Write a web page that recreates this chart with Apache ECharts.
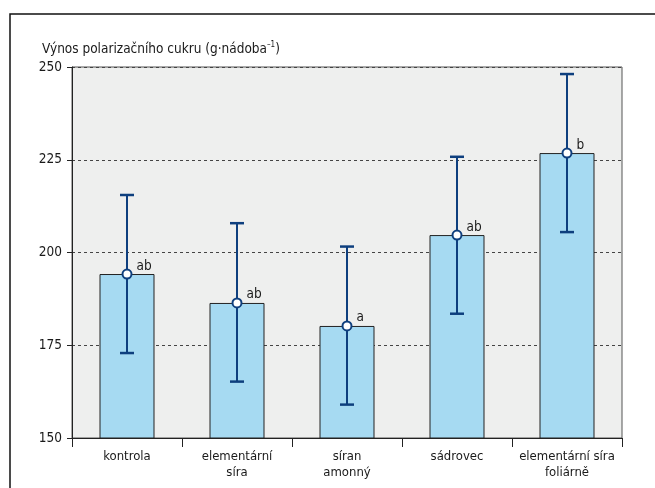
<!DOCTYPE html>
<html>
<head>
<meta charset="utf-8">
<script src="https://cdn.jsdelivr.net/npm/echarts@6/dist/echarts.min.js"></script>
<style>
  html, body { margin: 0; padding: 0; background: #fff; }
  #chart { width: 655px; height: 488px; }
</style>
</head>
<body>
<div id="chart"></div>
<script>
// Sugar yield per pot by sulphur fertilisation treatment
const categories = ['kontrola', 'elementární\nsíra', 'síran\namonný', 'sádrovec', 'elementární síra\nfoliárně'];
const means = [194.2, 186.4, 180.2, 204.7, 226.8];
const lowValues = [172.9, 165.2, 159.0, 183.5, 205.5];
const highValues = [215.5, 207.9, 201.6, 225.8, 248.1];
const letters = ['ab', 'ab', 'a', 'ab', 'b'];
const yTicks = { min: 150, max: 250, step: 25 };

const FONT = "'Liberation Sans Narrow', 'Arial Narrow', 'DejaVu Sans Condensed', sans-serif";
const NAVY = '#0e3f7e';
const INK = '#1a1a1a';

const chart = echarts.init(document.getElementById('chart'), null, { renderer: 'canvas' });

const option = {
  backgroundColor: '#ffffff',
  animation: false,
  textStyle: { fontFamily: FONT },
  grid: {
    left: 72, right: 33, top: 67, bottom: 50,
    show: true,
    backgroundColor: '#eeefee',
    borderColor: '#555',
    borderWidth: 1
  },
  graphic: [
    {
      type: 'rect',
      shape: { x: 10, y: 14, width: 700, height: 520 },
      style: { fill: 'none', stroke: '#111', lineWidth: 1.5 },
      silent: true
    },
    {
      type: 'text',
      left: 42, top: 41,
      style: {
        text: 'Výnos polarizačního cukru (g·nádoba{sup|–1})',
        font: '13.5px ' + FONT,
        fill: INK,
        rich: {
          sup: { fontSize: 8, verticalAlign: 'top', padding: [0, 0, 8, 0], fill: INK, fontFamily: FONT }
        }
      }
    }
  ],
  xAxis: {
    type: 'category',
    data: categories,
    boundaryGap: true,
    axisLine: { lineStyle: { color: '#222', width: 1 } },
    axisTick: { show: true, length: 9, lineStyle: { color: '#222' } },
    axisLabel: { color: INK, fontSize: 13, lineHeight: 16, margin: 11, fontFamily: FONT, interval: 0 },
    splitLine: { show: false }
  },
  yAxis: {
    type: 'value',
    min: yTicks.min, max: yTicks.max, interval: yTicks.step,
    axisLine: { show: true, lineStyle: { color: '#222', width: 1 } },
    axisTick: { show: true, length: 5, lineStyle: { color: '#222' } },
    axisLabel: { color: INK, fontSize: 13.5, margin: 10, fontFamily: FONT },
    splitLine: { show: true, lineStyle: { color: '#444', type: [3, 3], width: 1 } }
  },
  series: [
    {
      type: 'bar',
      data: means,
      barWidth: '50%',
      itemStyle: { color: '#a6daf2', borderColor: '#222', borderWidth: 1 },
      z: 2
    },
    {
      type: 'custom',
      data: means.map((m, i) => [i, lowValues[i], highValues[i]]),
      renderItem: function (params, api) {
        const i = api.value(0);
        const lo = api.coord([i, api.value(1)]);
        const hi = api.coord([i, api.value(2)]);
        const cap = 7;
        return {
          type: 'group',
          children: [
            { type: 'line', shape: { x1: hi[0], y1: hi[1], x2: lo[0], y2: lo[1] }, style: { stroke: NAVY, lineWidth: 2 } },
            { type: 'line', shape: { x1: hi[0] - cap, y1: hi[1], x2: hi[0] + cap, y2: hi[1] }, style: { stroke: NAVY, lineWidth: 2.5 } },
            { type: 'line', shape: { x1: lo[0] - cap, y1: lo[1], x2: lo[0] + cap, y2: lo[1] }, style: { stroke: NAVY, lineWidth: 2.5 } }
          ]
        };
      },
      z: 3
    },
    {
      type: 'scatter',
      data: means,
      symbol: 'circle',
      symbolSize: 9,
      itemStyle: { color: '#ffffff', borderColor: NAVY, borderWidth: 2, opacity: 1 },
      label: {
        show: true,
        position: 'right',
        distance: 4,
        offset: [0, -8],
        color: INK,
        fontSize: 13.5,
        fontFamily: FONT,
        formatter: function (p) { return letters[p.dataIndex]; }
      },
      z: 4
    }
  ]
};

chart.setOption(option);
</script>
</body>
</html>
